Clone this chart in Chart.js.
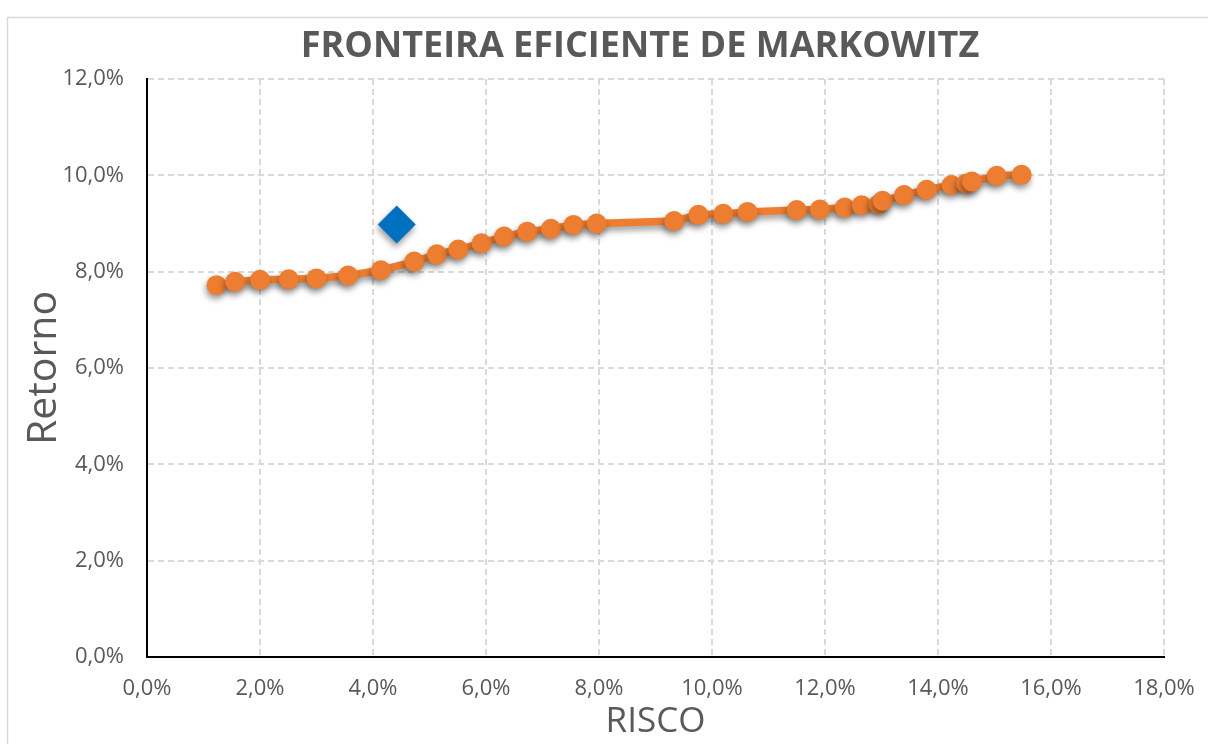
<!DOCTYPE html>
<html lang="pt">
<head>
<meta charset="utf-8">
<title>Fronteira Eficiente de Markowitz</title>
<script src="https://cdn.jsdelivr.net/npm/chart.js@4"></script>
<style>
  body { margin: 0; background: #fff; }
  #caixa { width: 1208px; height: 744px; }
</style>
</head>
<body>
<div id="caixa"><canvas id="grafico"></canvas></div>
<script>
// Pontos da fronteira eficiente (risco e retorno em %)
const riscoFronteira = [1.23, 1.56, 2.00, 2.51, 3.00, 3.56, 4.14, 4.73, 5.13, 5.51, 5.92, 6.32, 6.73, 7.15, 7.55, 7.96,
  9.33, 9.76, 10.20, 10.63, 11.50, 11.91, 12.35, 12.65, 12.95, 13.02, 13.40, 13.80, 14.24, 14.50, 14.60, 15.04, 15.48];
const retornoFronteira = [7.72, 7.79, 7.83, 7.84, 7.86, 7.92, 8.03, 8.21, 8.36, 8.46, 8.59, 8.73, 8.83, 8.89, 8.97, 9.00,
  9.05, 9.18, 9.20, 9.24, 9.28, 9.29, 9.33, 9.38, 9.40, 9.47, 9.59, 9.70, 9.80, 9.83, 9.87, 9.99, 10.01];

// Carteira atual (o losango azul)
const riscoCarteira = [4.42];
const retornoCarteira = [8.98];

// Limites dos eixos
const eixoX = { min: 0, max: 18, passo: 2 };
const eixoY = { min: 0, max: 12, passo: 2 };

const tituloGrafico = "FRONTEIRA EFICIENTE DE MARKOWITZ";
const cinzaTexto = "#595959";
const fonteBase = "'Open Sans', 'DejaVu Sans', sans-serif";

// formata 2 -> "2,0%"
function formataPct(v) {
  return v.toFixed(1).replace(".", ",") + "%";
}

// moldura clara em volta do gráfico, como no Excel
const moldura = {
  id: "moldura",
  beforeDraw(chart) {
    const c = chart.ctx;
    c.save();
    c.fillStyle = "#fff";
    c.fillRect(0, 0, chart.width, chart.height);
    c.strokeStyle = "#d9d9d9";
    c.lineWidth = 1.5;
    c.strokeRect(7.5, 17.5, chart.width + 20, chart.height + 20);
    c.restore();
  }
};

// título desenhado à mão para ficar centrado como no Excel (um pouco à direita)
const titulo = {
  id: "tituloExcel",
  afterDraw(chart) {
    const c = chart.ctx;
    c.save();
    c.fillStyle = cinzaTexto;
    c.font = "bold 36px 'Open Sans', sans-serif";
    c.textAlign = "center";
    c.textBaseline = "alphabetic";
    c.fillText(tituloGrafico, 640, 57);
    c.restore();
  }
};

// sombra por baixo das séries
const sombra = {
  id: "sombra",
  beforeDatasetsDraw(chart) {
    const c = chart.ctx;
    c.save();
    c.shadowColor = "rgba(0,0,0,0.4)";
    c.shadowBlur = 6;
    c.shadowOffsetX = -1;
    c.shadowOffsetY = 4;
  },
  afterDatasetsDraw(chart) {
    chart.ctx.restore();
  }
};

const ctx = document.getElementById("grafico").getContext("2d");

new Chart(ctx, {
  type: "scatter",
  data: {
    datasets: [
      {
        label: "Fronteira",
        data: riscoFronteira.map((x, i) => ({ x: x, y: retornoFronteira[i] })),
        showLine: true,
        borderColor: "#ED7D31",
        backgroundColor: "#ED7D31",
        borderWidth: 7.5,
        pointRadius: 10,
        pointHoverRadius: 10,
        pointBorderWidth: 0
      },
      {
        label: "Carteira",
        data: riscoCarteira.map((x, i) => ({ x: x, y: retornoCarteira[i] })),
        pointStyle: "rectRot",
        backgroundColor: "#0070C0",
        borderColor: "#0070C0",
        pointRadius: 19,
        pointHoverRadius: 19,
        pointBorderWidth: 0
      }
    ]
  },
  options: {
    responsive: true,
    maintainAspectRatio: false,
    animation: false,
    layout: { padding: { left: 8, right: 44, top: 79, bottom: 0 } },
    plugins: {
      legend: { display: false },
      tooltip: { enabled: false },
      title: { display: false }
    },
    scales: {
      x: {
        type: "linear",
        min: eixoX.min,
        max: eixoX.max,
        afterFit(scale) {
          scale.height = 87;
          // a margem da direita fica só com o padding do layout
          scale.paddingLeft = 0;
          scale.paddingRight = 0;
        },
        ticks: {
          stepSize: eixoX.passo,
          color: cinzaTexto,
          padding: 19,
          maxRotation: 0,
          font: { family: fonteBase, size: 22 },
          callback: (v) => formataPct(v)
        },
        grid: { color: "#d9d9d9", lineWidth: 2, drawTicks: false },
        border: { color: "#000", width: 2, dash: [6, 4] },
        title: {
          display: true,
          text: "RISCO",
          color: cinzaTexto,
          font: { family: fonteBase, size: 35, lineHeight: 1.2 },
          padding: { top: 0, bottom: 1 }
        }
      },
      y: {
        type: "linear",
        min: eixoY.min,
        max: eixoY.max,
        afterFit(scale) { scale.width = 139; },
        ticks: {
          stepSize: eixoY.passo,
          color: cinzaTexto,
          padding: 23,
          font: { family: fonteBase, size: 22 },
          callback: (v) => formataPct(v)
        },
        grid: { color: "#d9d9d9", lineWidth: 2, drawTicks: false },
        border: { color: "#000", width: 2, dash: [6, 4] },
        title: {
          display: true,
          text: "Retorno",
          color: cinzaTexto,
          font: { family: fonteBase, size: 41, lineHeight: 1.2 },
          padding: { top: 12, bottom: 0 }
        }
      }
    }
  },
  plugins: [moldura, titulo, sombra]
});
</script>
</body>
</html>
